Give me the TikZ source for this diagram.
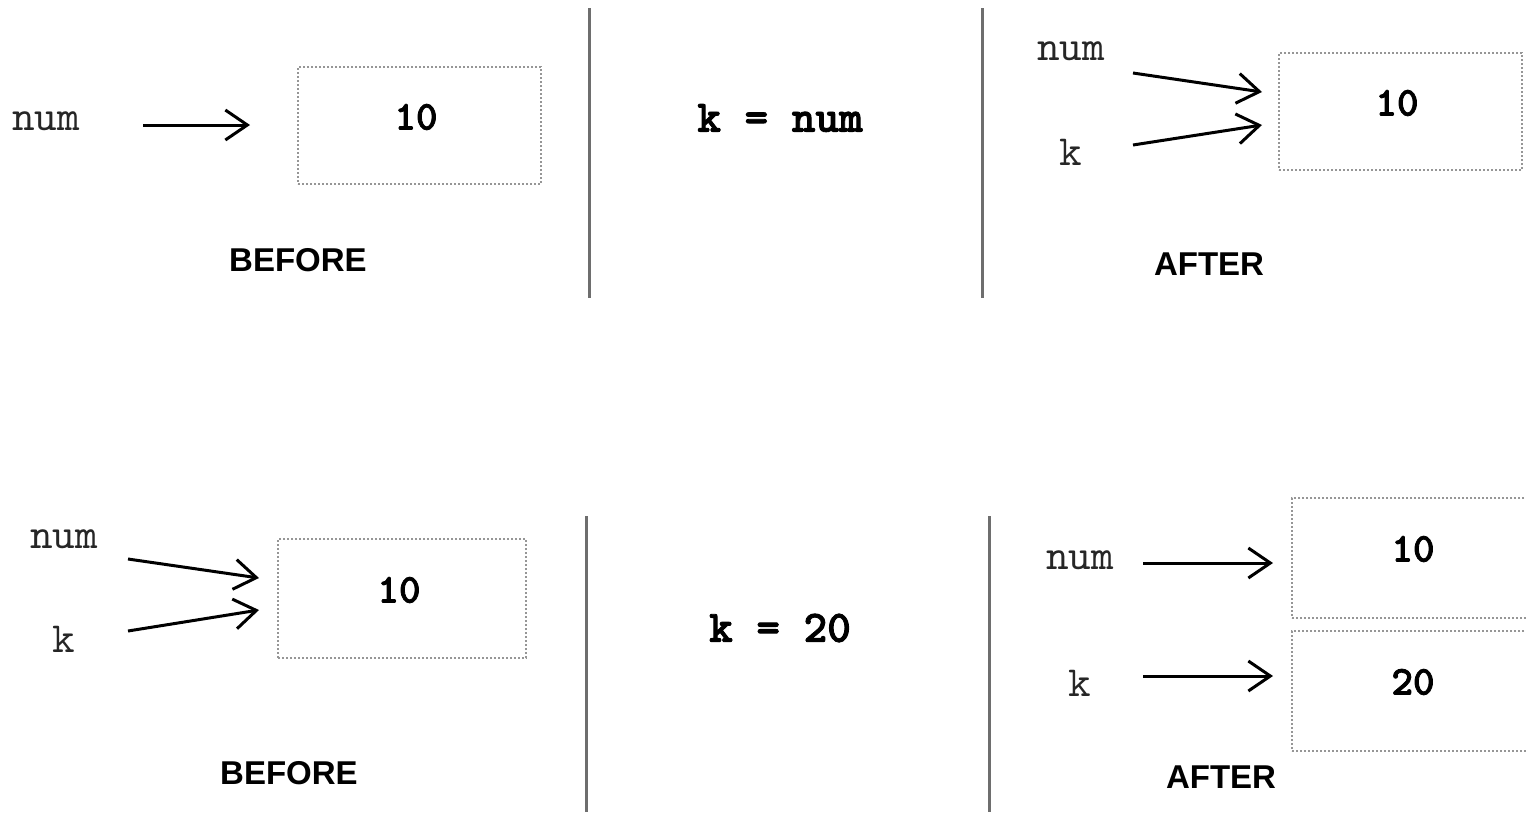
\documentclass[tikz,border=0pt]{standalone}
\usepackage{fontspec}
\setmainfont{Liberation Serif}
\newfontfamily\monof{lmmono10-regular.otf}
\newfontfamily\monob{lmmonolt10-bold.otf}[FakeBold=2]
\newfontfamily\sansf{Liberation Sans}
\usetikzlibrary{arrows.meta}
\definecolor{boxgray}{RGB}{150,150,150}
\definecolor{linegray}{RGB}{110,110,110}
\tikzset{
  varlabel/.style={inner sep=0pt, font=\monof\fontsize{43}{45}\selectfont, text=black!85},
  valbox/.style={draw=boxgray, line width=2pt, dash pattern=on 2pt off 2pt, inner sep=0pt},
  valtext/.style={inner sep=0pt, font=\monob\fontsize{41}{44}\selectfont},
  stmt/.style={inner sep=0pt, font=\monob\fontsize{45}{48}\selectfont},
  caption/.style={inner sep=0pt, font=\sansf\bfseries\fontsize{33}{36}\selectfont},
  ptr/.style={line width=3pt, -{Straight Barb[length=22pt,width=30pt,line width=3pt]}},
  divider/.style={draw=linegray, line width=3pt}
}
\begin{document}
\begin{tikzpicture}[x=1pt,y=-1pt]
\useasboundingbox (0,0) rectangle (1526,812);

% ---------- top row ----------
\node[varlabel] (tnum) at (46,121) {num};
\coordinate (ta1s) at (143,125);
\coordinate (ta1e) at (250,125);
\draw[ptr] (ta1s) -- (ta1e);
\node[valbox, minimum width=243pt, minimum height=117pt, anchor=north west] (tbox1) at (297,66) {};
\node[valtext] (tv1) at (416,117) {10};
\node[caption] (tbefore) at (298,260) {BEFORE};

\coordinate (d1t) at (589,8);
\coordinate (d1b) at (589,298);
\draw[divider] (d1t) -- (d1b);

\node[stmt] (tstmt) at (780,118) {k = num};

\coordinate (d2t) at (982,8);
\coordinate (d2b) at (982,298);
\draw[divider] (d2t) -- (d2b);

\node[varlabel] (tnum2) at (1071,51) {num};
\node[varlabel] (tk2) at (1071,152) {k};
\coordinate (ta2s) at (1133,73);
\coordinate (ta2e) at (1262,92);
\coordinate (ta3s) at (1133,145);
\coordinate (ta3e) at (1262,125);
\draw[ptr] (ta2s) -- (ta2e);
\draw[ptr] (ta3s) -- (ta3e);
\node[valbox, minimum width=243pt, minimum height=117pt, anchor=north west] (tbox2) at (1278,52) {};
\node[valtext] (tv2) at (1397,103) {10};
\node[caption] (tafter) at (1209,264) {AFTER};

% ---------- bottom row ----------
\node[varlabel] (bnum) at (64,539) {num};
\node[varlabel] (bk) at (64,639) {k};
\coordinate (ba1s) at (128,559);
\coordinate (ba1e) at (259,578);
\coordinate (ba2s) at (128,631);
\coordinate (ba2e) at (259,610);
\draw[ptr] (ba1s) -- (ba1e);
\draw[ptr] (ba2s) -- (ba2e);
\node[valbox, minimum width=248pt, minimum height=119pt, anchor=north west] (bbox1) at (277,538) {};
\node[valtext] (bv1) at (399,590) {10};
\node[caption] (bbefore) at (289,773) {BEFORE};

\coordinate (d3t) at (586,516);
\coordinate (d3b) at (586,812);
\draw[divider] (d3t) -- (d3b);

\node[stmt] (bstmt) at (780,628) {k = 20};

\coordinate (d4t) at (989,516);
\coordinate (d4b) at (989,812);
\draw[divider] (d4t) -- (d4b);

\node[varlabel] (bnum2) at (1080,560) {num};
\node[varlabel] (bk2) at (1080,683) {k};
\coordinate (ba3s) at (1143,563);
\coordinate (ba3e) at (1273,563);
\coordinate (ba4s) at (1143,676);
\coordinate (ba4e) at (1273,676);
\draw[ptr] (ba3s) -- (ba3e);
\draw[ptr] (ba4s) -- (ba4e);
\begin{scope}
\clip (0,0) rectangle (1526,812);
\node[valbox, minimum width=250pt, minimum height=120pt, anchor=north west] (bbox2) at (1291,497) {};
\node[valbox, minimum width=250pt, minimum height=120pt, anchor=north west] (bbox3) at (1291,630) {};
\end{scope}
\node[valtext] (bv2) at (1413,549) {10};
\node[valtext] (bv3) at (1413,682) {20};
\node[caption] (bafter) at (1221,777) {AFTER};
\end{tikzpicture}
\end{document}
